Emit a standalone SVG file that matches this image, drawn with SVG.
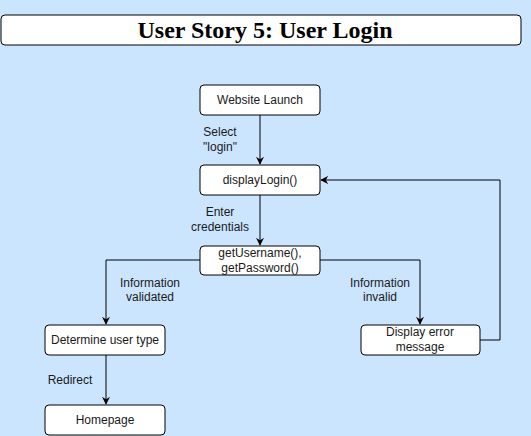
<svg xmlns="http://www.w3.org/2000/svg" width="531" height="436" viewBox="0 0 531 436">
<style>
.box{fill:#fff;stroke:#000;stroke-width:1}
.t{font-family:"Liberation Sans",Arial,sans-serif;font-size:12px;fill:#1a1a1a;text-anchor:middle}
.c{fill:none;stroke:#000;stroke-width:1}
</style>
<defs>
<marker id="a" viewBox="0 0 10 10" refX="9" refY="5" markerWidth="8" markerHeight="8" markerUnits="userSpaceOnUse" orient="auto">
<path d="M0,0 L10,5 L0,10 L3,5 Z" fill="#000"/>
</marker>
</defs>
<rect width="531" height="436" fill="#cce5ff"/>
<g id="title">
<rect class="box" x="1" y="15" width="520" height="30" rx="4"/>
<text x="265" y="38" font-family="'Liberation Serif','Times New Roman',serif" font-size="24" font-weight="bold" text-anchor="middle" fill="#000">User Story 5: User Login</text>
</g>
<g id="connectors">
<path class="c" d="M260,115 V164" marker-end="url(#a)"/>
<path class="c" d="M260,195 V245" marker-end="url(#a)"/>
<path class="c" d="M200,260 H106 V324" marker-end="url(#a)"/>
<path class="c" d="M320,260 H420 V324" marker-end="url(#a)"/>
<path class="c" d="M106,355 V404" marker-end="url(#a)"/>
<path class="c" d="M480,340 H500 V180 H321" marker-end="url(#a)"/>
<text class="t" x="220" y="136">Select</text>
<text class="t" x="220" y="151">"login"</text>
<text class="t" x="220" y="216">Enter</text>
<text class="t" x="220" y="231">credentials</text>
<text class="t" x="150" y="287">Information</text>
<text class="t" x="150" y="301">validated</text>
<text class="t" x="380" y="287">Information</text>
<text class="t" x="380" y="301">invalid</text>
<text class="t" x="70" y="384">Redirect</text>
</g>
<g id="launch"><rect class="box" x="200" y="85" width="120" height="30" rx="4"/><text class="t" x="260" y="104">Website Launch</text></g>
<g id="displayLogin"><rect class="box" x="200" y="165" width="120" height="30" rx="4"/><text class="t" x="260" y="184">displayLogin()</text></g>
<g id="getCreds"><rect class="box" x="200" y="246" width="120" height="29" rx="4"/><text class="t" x="260" y="257">getUsername(),</text><text class="t" x="260" y="272">getPassword()</text></g>
<g id="userType"><rect class="box" x="45" y="325" width="120" height="30" rx="4"/><text class="t" x="105" y="344">Determine user type</text></g>
<g id="homepage"><rect class="box" x="45" y="405" width="120" height="30" rx="4"/><text class="t" x="105" y="424">Homepage</text></g>
<g id="error"><rect class="box" x="361" y="325" width="119" height="30" rx="4"/><text class="t" x="420" y="336">Display error</text><text class="t" x="420" y="351">message</text></g>
</svg>
